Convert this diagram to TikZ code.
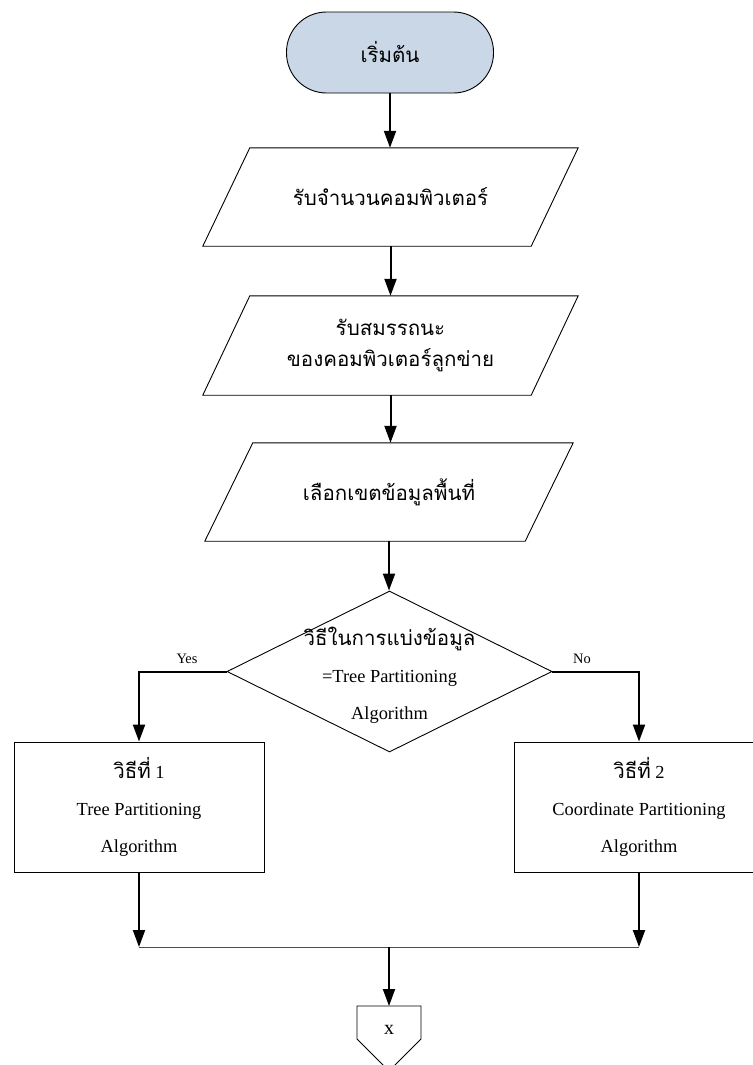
\documentclass[tikz,border=0pt]{standalone}
\usepackage{fontspec}
\setmainfont{Liberation Serif}
\newfontfamily\thaif[Script=Thai]{Loma}
\usetikzlibrary{shapes.geometric,arrows.meta}
\definecolor{termfill}{RGB}{201,215,230}
\newcommand\drawparallelogram[2]{%
  \draw[outline] ([xshift=#2]#1.north west) -- ([xshift=#2]#1.north east)
    -- ([xshift=-#2]#1.south east) -- ([xshift=-#2]#1.south west) -- cycle;}
\begin{document}
\begin{tikzpicture}[x=1bp,y=-1bp,
  outline/.style={draw=black, line width=0.9bp},
  flow/.style={draw=black, line width=2bp, -{Triangle[length=17bp,width=12bp]}},
  thin line/.style={draw=black!70, line width=1bp},
  thaitext/.style={font=\thaif\fontsize{20.5bp}{31bp}\selectfont},
  latintext/.style={font=\fontsize{18.4bp}{37bp}\selectfont},
  terminal/.style={outline, fill=termfill, rectangle, rounded corners=40bp,
    minimum width=207bp, minimum height=81bp, inner sep=0pt},
  iobox/.style={rectangle, minimum height=98bp, inner sep=0pt,
    align=center, thaitext},
  procbox/.style={outline, rectangle, minimum width=250bp, minimum height=130bp,
    inner sep=0pt, align=center, latintext},
  decision/.style={outline, diamond, minimum width=325bp, minimum height=161bp, inner sep=0pt},
  branchlabel/.style={font=\fontsize{14.4bp}{16bp}\selectfont, inner sep=0pt}
]
\path[use as bounding box, clip] (0,0) rectangle (753,1065);

% nodes
\node[terminal, thaitext] (start) at (390,52.5) {เริ่มต้น};
\node[iobox, minimum width=328bp] (in1) at (390.5,197) {รับจำนวนคอมพิวเตอร์};
\drawparallelogram{in1}{23.5bp}
\node[iobox, minimum width=328bp, minimum height=99bp] (in2) at (390.5,345.5) {รับสมรรถนะ\\ของคอมพิวเตอร์ลูกข่าย};
\drawparallelogram{in2}{23.5bp}
\node[iobox, minimum width=320bp] (in3) at (389,492) {เลือกเขตข้อมูลพื้นที่};
\drawparallelogram{in3}{24bp}
\node[decision] (dec) at (389.5,671.5) {};
\node[align=center, latintext, inner sep=0pt] (dectext) at (389.5,675)
  {{\thaif\fontsize{20.5bp}{31bp}\selectfont วิธีในการแบ่งข้อมูล}\\=Tree Partitioning\\Algorithm};
\node[branchlabel] (yes) at (187,659) {Yes};
\node[branchlabel] (no) at (582,659) {No};
\node[procbox] (m1) at (139,807)
  {{\thaif\fontsize{20.5bp}{31bp}\selectfont วิธีที่} 1\\Tree Partitioning\\Algorithm};
\node[procbox] (m2) at (639,807)
  {{\thaif\fontsize{20.5bp}{31bp}\selectfont วิธีที่} 2\\Coordinate Partitioning\\Algorithm};

% junction points
\coordinate (jl) at (139,947);
\coordinate (jr) at (639,947);
\coordinate (jm) at (389,947);

% off-page connector
\coordinate (offtop) at (389,1006);
\draw[outline] (357,1006) -- (421,1006) -- (421,1039) -- (389,1071) -- (357,1039) -- cycle;
\node[font=\fontsize{20bp}{22bp}\selectfont, inner sep=0pt] (offlabel) at (389,1030) {x};

% connectors
\draw[flow] (start.south) -- (start.south |- in1.north);
\draw[flow] (in1.south) -- (in1.south |- in2.north);
\draw[flow] (in2.south) -- (in2.south |- in3.north);
\draw[flow] (in3.south) -- (in3.south |- dec.north);
\draw[flow] (dec.west) -| (m1.north);
\draw[flow] (dec.east) -| (m2.north);
\draw[flow] (m1.south) -- (jl);
\draw[flow] (m2.south) -- (jr);
\draw[thin line] (jl) -- (jr);
\draw[flow] (jm) -- (offtop);
\end{tikzpicture}
\end{document}
